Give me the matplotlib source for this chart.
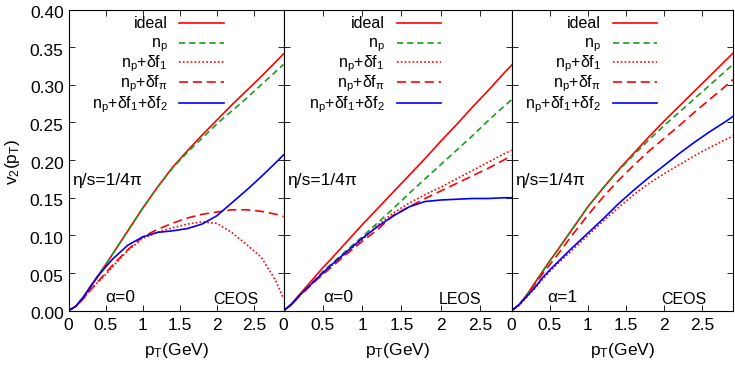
import matplotlib
matplotlib.use("Agg")
import matplotlib.pyplot as plt
from matplotlib.lines import Line2D
from matplotlib.transforms import ScaledTranslation

plt.rcParams['font.family'] = ['Liberation Sans', 'DejaVu Sans']
plt.rcParams['mathtext.fontset'] = 'custom'
plt.rcParams['mathtext.rm'] = 'Liberation Sans'
plt.rcParams['mathtext.it'] = 'Liberation Sans:italic'
plt.rcParams['mathtext.default'] = 'regular'
plt.rcParams['lines.scale_dashes'] = False

# ---------------- data ----------------
pt = [0, 0.1, 0.2, 0.3, 0.4, 0.5, 0.6, 0.8, 1.0, 1.2, 1.4, 1.6, 1.8, 2.0, 2.2, 2.4, 2.6, 2.8, 2.9]

# panel 1: CEOS, alpha=0
ideal_1  = [0, .006, .018, .033, .047, .061, .076, .106, .136, .164, .190, .212, .233, .253, .273, .292, .311, .331, .341]
np_1     = [0, .006, .018, .033, .047, .061, .076, .106, .136, .164, .189, .210, .229, .248, .265, .282, .300, .318, .327]
df1_1    = [0, .006, .016, .028, .038, .048, .059, .080, .096, .104, .110, .115, .118, .116, .104, .088, .071, .039, .016]
dfpi_1   = [0, .006, .016, .028, .039, .050, .061, .081, .098, .108, .116, .123, .128, .131, .134, .134, .132, .128, .125]
df12_1   = [0, .006, .018, .032, .046, .058, .069, .087, .098, .104, .106, .109, .115, .126, .143, .160, .178, .197, .207]

# panel 2: LEOS, alpha=0
ideal_2  = [0, .009, .021, .033, .045, .057, .068, .091, .114, .136, .158, .180, .202, .225, .247, .270, .292, .315, .326]
np_2     = [0, .008, .020, .031, .041, .052, .061, .080, .098, .117, .136, .156, .175, .194, .213, .232, .252, .271, .280]
df1_2    = [0, .008, .020, .030, .040, .050, .059, .077, .094, .114, .130, .143, .154, .164, .175, .186, .197, .208, .213]
dfpi_2   = [0, .008, .019, .029, .039, .048, .057, .075, .092, .108, .127, .138, .149, .159, .169, .179, .189, .200, .206]
df12_2   = [0, .008, .020, .030, .040, .050, .060, .078, .096, .112, .126, .138, .145, .147, .148, .149, .149, .150, .150]

# panel 3: CEOS, alpha=1
ideal_3  = [0, .008, .021, .036, .051, .066, .080, .109, .138, .163, .187, .209, .231, .252, .272, .292, .312, .332, .342]
np_3     = [0, .008, .021, .036, .051, .066, .080, .109, .138, .163, .186, .207, .227, .246, .264, .282, .300, .318, .327]
df1_3    = [0, .007, .018, .029, .041, .052, .062, .081, .100, .119, .137, .154, .169, .182, .194, .206, .217, .227, .232]
dfpi_3   = [0, .008, .020, .034, .048, .061, .074, .101, .127, .151, .173, .193, .212, .229, .246, .264, .281, .298, .307]
df12_3   = [0, .008, .019, .030, .043, .054, .064, .084, .103, .122, .142, .160, .177, .193, .209, .224, .238, .251, .258]

labels = ['ideal', 'n$_p$', 'n$_p$+δf$_1$', 'n$_p$+δf$_π$', 'n$_p$+δf$_1$+δf$_2$']
panel_eos = ['CEOS', 'LEOS', 'CEOS']
panel_alpha = ['α=0', 'α=0', 'α=1']
eta_text = 'η/s=1/4π'
xticks = [0, 0.5, 1, 1.5, 2, 2.5]
xticklabels = ['0', '0.5', '1', '1.5', '2', '2.5']
yticks = [0, 0.05, 0.10, 0.15, 0.20, 0.25, 0.30, 0.35, 0.40]

panels = [
    [ideal_1, np_1, df1_1, dfpi_1, df12_1],
    [ideal_2, np_2, df1_2, dfpi_2, df12_2],
    [ideal_3, np_3, df1_3, dfpi_3, df12_3],
]

RED = '#ff0000'
GREEN = '#1f9a1f'
BLUE = '#0000ff'
LW = 1.2
styles = [
    dict(color=RED, lw=LW, ls='-'),
    dict(color=GREEN, lw=LW, ls=(0, (4.5, 2.8))),
    dict(color=RED, lw=LW, ls=(0, (1.2, 1.6))),
    dict(color=RED, lw=LW, ls=(0, (6.5, 3.5))),
    dict(color=BLUE, lw=LW, ls='-'),
]

# ---------------- layout (pixels) ----------------
W, H = 735, 365
fig = plt.figure(figsize=(W / 100, H / 100), dpi=100)
xb = [68.5, 283.5, 511.5, 733.0]
ytop, ybot = 9.5, 310.7
ax_h = ybot - ytop
leg_end_off = [60, 71, 76]      # px from panel right edge to end of key line
alpha_off = [36.5, 39.5, 35.5]  # px from panel left edge
eos_off = [24.5, 30.5, 26.0]    # px from panel right edge
leg_rows = [22.7, 42.7, 62.3, 82.3, 103.3]
TICK_FS = 12.5
LEG_FS = 11.5
ANN_FS = 12.5

for i in range(3):
    x0, x1 = xb[i], xb[i + 1]
    wpx = x1 - x0
    ax = fig.add_axes([x0 / W, (H - ybot) / H, wpx / W, ax_h / H])
    for s, st in zip(panels[i], styles):
        ax.plot(pt, s, **st)
    ax.set_xlim(0, 2.9)
    ax.set_ylim(0, 0.4)
    ax.set_xticks(xticks)
    ax.set_xticklabels(xticklabels)
    ax.set_yticks(yticks)
    if i == 0:
        ax.set_yticklabels(['%.2f' % v for v in yticks])
        ax.set_ylabel('v$_2$(p$_T$)', fontsize=TICK_FS)
        ax.yaxis.label.set_va('center')
        ax.yaxis.label.set_ha('center')
        ax.yaxis.set_label_coords((13 - x0) / wpx, (ybot - 162) / ax_h)
    else:
        ax.set_yticklabels([])
    ax.tick_params(direction='in', top=True, right=True, length=4.5, width=0.6,
                   labelsize=TICK_FS, pad=5.5)
    ax.tick_params(axis='y', pad=3.5)
    if i == 0:
        off = ScaledTranslation(0, -2.5 / 100, fig.dpi_scale_trans)
        for lab in ax.get_yticklabels():
            lab.set_transform(lab.get_transform() + off)
    for sp in ax.spines.values():
        sp.set_linewidth(0.8)
    ax.set_xlabel('p$_T$(GeV)', fontsize=TICK_FS)
    ax.xaxis.set_label_coords(0.5, -(341 - ybot) / ax_h)

    # legend (manual, gnuplot style: text then key)
    lend = (wpx - leg_end_off[i]) / wpx
    lstart = lend - 44 / wpx
    tx = lstart - 12 / wpx
    for lab, st, yr in zip(labels, styles, leg_rows):
        yf = (ybot - yr) / ax_h
        ax.add_line(Line2D([lstart, lend], [yf, yf], transform=ax.transAxes, **st))
        ax.text(tx, yf - 5 / ax_h, lab, transform=ax.transAxes, ha='right',
                va='baseline', fontsize=LEG_FS)

    ax.text(4 / wpx, (ybot - 180) / ax_h, eta_text, transform=ax.transAxes,
            ha='left', va='center', fontsize=ANN_FS)
    ax.text(alpha_off[i] / wpx, (ybot - 297) / ax_h, panel_alpha[i],
            transform=ax.transAxes, ha='left', va='center', fontsize=ANN_FS)
    ax.text(1 - eos_off[i] / wpx, (ybot - 300) / ax_h, panel_eos[i],
            transform=ax.transAxes, ha='right', va='center', fontsize=11.5)

fig.savefig('out.png', dpi=100)
